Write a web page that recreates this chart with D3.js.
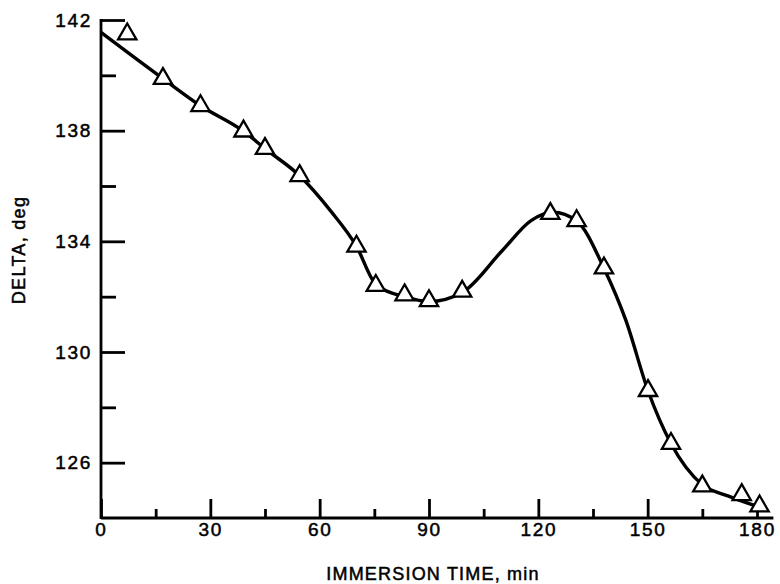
<!DOCTYPE html>
<html>
<head>
<meta charset="utf-8">
<script src="https://cdn.jsdelivr.net/npm/d3@7"></script>
<style>
  html, body { margin: 0; padding: 0; background: #fff; }
  svg { display: block; font-family: "Liberation Sans", Arial, sans-serif; }
</style>
</head>
<body>
<div id="chart"></div>
<script>
// measured triangles: immersion time (min) and delta (deg)
const pointTimes = [7.2, 17, 27.3, 39.1, 45, 54.5, 70.1, 75.4, 83.3, 90, 99.1, 123.3, 130.5, 138, 150.1, 156.4, 165, 175.8, 180.7];
const pointDelta = [141.49, 139.88, 138.9, 137.98, 137.35, 136.37, 133.82, 132.4, 132.06, 131.85, 132.19, 135.0, 134.74, 133.03, 128.6, 126.69, 125.15, 124.84, 124.43];

// hand-drawn smooth curve
const curveTimes = [0, 17, 27.3, 39.1, 45, 54.5, 63, 70.1, 75.4, 83.3, 90, 99.1, 110, 118, 124, 130.5, 138, 144, 150.1, 156.4, 165, 172, 180.5];
const curveDelta = [141.55, 139.88, 138.9, 137.98, 137.35, 136.37, 135.1, 133.82, 132.45, 132.0, 131.82, 132.15, 133.65, 134.75, 135.05, 134.74, 133.03, 131.15, 128.6, 126.69, 125.2, 124.8, 124.4];

const xMajorTicks = [0, 30, 60, 90, 120, 150, 180];
const xMinorTicks = [15, 45, 75, 105, 135, 165];
const yMajorTicks = [126, 130, 134, 138, 142];
const yMinorTicks = [128, 132, 136, 140];
const xAxisEnd = 184.5;

const W = 780, H = 584;
const FONT = '"Liberation Sans", Arial, sans-serif';

const svg = d3.select("#chart")
  .append("svg")
  .attr("width", W)
  .attr("height", H);

const x = d3.scaleLinear().domain([0, 180]).range([101, 757]);
const y = d3.scaleLinear().domain([124, 142]).range([518, 20]);

// scanned figure: text looks a bit heavier than plain regular weight
function inkText(sel) {
  sel.attr("fill", "#000")
    .attr("stroke", "#000")
    .attr("stroke-width", 0.5);
}

function styleAxis(g) {
  g.attr("font-family", FONT);
  g.select(".domain").remove();
  g.selectAll(".tick line").attr("stroke", "#000").attr("stroke-width", 2.8);
  g.selectAll(".tick text")
    .attr("font-size", "19px")
    .attr("letter-spacing", "1.7px")
    .call(inkText);
}

// x axis, ticks pointing up into the plot
svg.append("g")
  .attr("transform", `translate(0,${y(124)})`)
  .call(d3.axisBottom(x).tickValues(xMajorTicks).tickSize(-19).tickPadding(5).tickFormat(d3.format("d")))
  .call(styleAxis);

svg.append("g")
  .attr("transform", `translate(0,${y(124)})`)
  .call(d3.axisBottom(x).tickValues(xMinorTicks).tickSize(-9).tickFormat(""))
  .call(styleAxis);

// y axis, ticks pointing right
svg.append("g")
  .attr("transform", `translate(${x(0)},0)`)
  .call(d3.axisLeft(y).tickValues(yMajorTicks).tickSize(-24).tickPadding(9).tickFormat(d3.format("d")))
  .call(styleAxis);

svg.append("g")
  .attr("transform", `translate(${x(0)},0)`)
  .call(d3.axisLeft(y).tickValues(yMinorTicks).tickSize(-15).tickFormat(""))
  .call(styleAxis);

// axis lines
svg.append("line")
  .attr("x1", x(0)).attr("x2", x(xAxisEnd))
  .attr("y1", y(124)).attr("y2", y(124))
  .attr("stroke", "#000").attr("stroke-width", 2.8);

svg.append("line")
  .attr("x1", x(0)).attr("x2", x(0))
  .attr("y1", y(124) + 1).attr("y2", y(142) - 1)
  .attr("stroke", "#000").attr("stroke-width", 2.8);

// axis titles
svg.append("text")
  .attr("x", 433)
  .attr("y", 580)
  .attr("text-anchor", "middle")
  .attr("font-size", "18px")
  .attr("letter-spacing", "1.2px")
  .call(inkText)
  .text("IMMERSION TIME, min");

svg.append("text")
  .attr("transform", "translate(25,250) rotate(-90)")
  .attr("text-anchor", "middle")
  .attr("font-size", "18px")
  .attr("letter-spacing", "1.3px")
  .call(inkText)
  .text("DELTA, deg");

// fitted curve
const curveData = curveTimes.map((t, i) => ({ t, v: curveDelta[i] }));
const line = d3.line()
  .x((d) => x(d.t))
  .y((d) => y(d.v))
  .curve(d3.curveMonotoneX);

svg.append("path")
  .datum(curveData)
  .attr("fill", "none")
  .attr("stroke", "#000")
  .attr("stroke-width", 3.4)
  .attr("d", line);

// triangle markers
const points = pointTimes.map((t, i) => ({ t, v: pointDelta[i] }));
svg.selectAll(".pt")
  .data(points)
  .enter()
  .append("path")
  .attr("class", "pt")
  .attr("transform", (d) => `translate(${x(d.t)},${y(d.v)})`)
  .attr("d", d3.symbol(d3.symbolTriangle, 145))
  .attr("fill", "#fff")
  .attr("stroke", "#000")
  .attr("stroke-width", 2.3);
</script>
</body>
</html>
